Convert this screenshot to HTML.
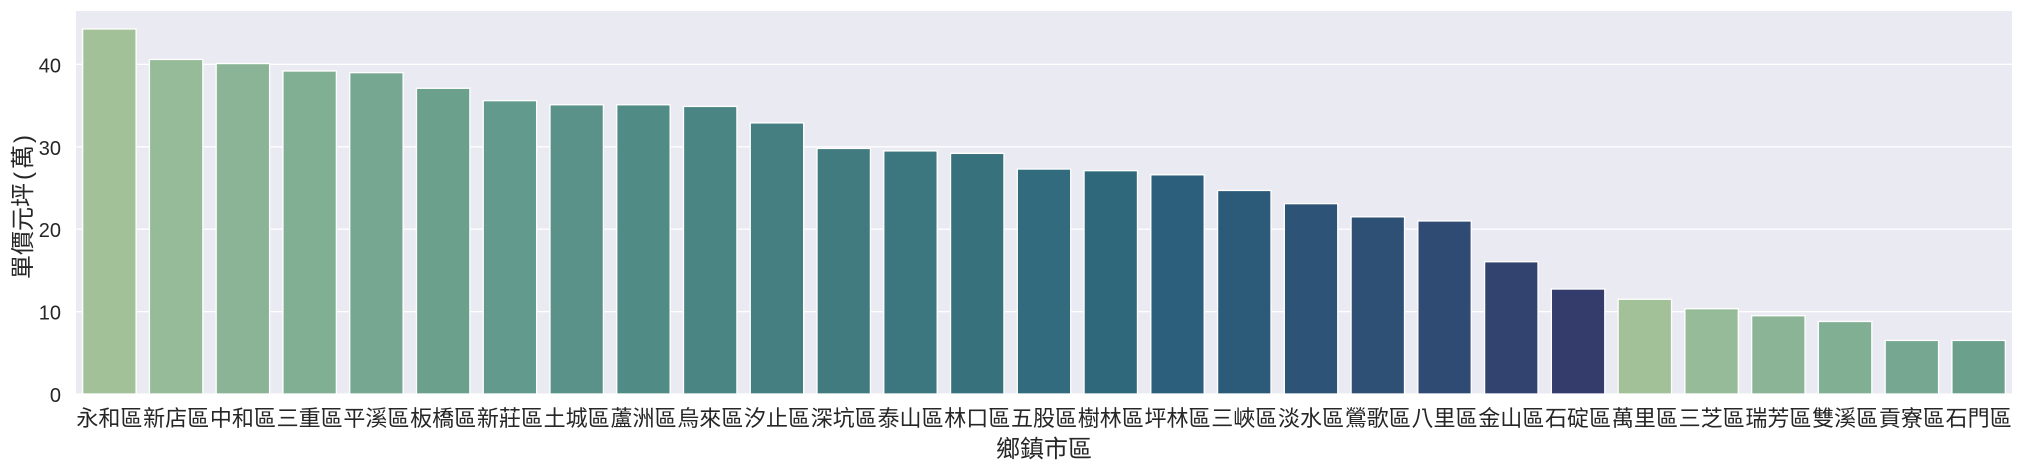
<!DOCTYPE html>
<html lang="zh-Hant">
<head>
<meta charset="utf-8">
<title>鄉鎮市區單價元坪</title>
<style>
html,body{margin:0;padding:0;background:#fff;width:2023px;height:469px;overflow:hidden}
svg{display:block}
text{font-family:"Liberation Sans","Noto Sans CJK TC",sans-serif;fill:#262626}
</style>
</head>
<body>
<svg id="chart" width="2023" height="469" viewBox="0 0 2023 469" xmlns="http://www.w3.org/2000/svg">
<rect x="0" y="0" width="2023" height="469" fill="#ffffff"/>
<rect x="76" y="11" width="1936" height="383" fill="#eaeaf2"/>
<g id="grid"></g>
<g id="bars"></g>
<g id="yticks"></g>
<g id="xticks"></g>
<text x="1044" y="457" text-anchor="middle" font-size="24">鄉鎮市區</text>
<text transform="translate(31,207) rotate(-90)" text-anchor="middle" font-size="24">單價元坪<tspan dx="3">(</tspan><tspan dx="3">萬</tspan><tspan dx="2">)</tspan></text>
</svg>
<script>
const categories = ["永和區","新店區","中和區","三重區","平溪區","板橋區","新莊區","土城區","蘆洲區","烏來區","汐止區","深坑區","泰山區","林口區","五股區","樹林區","坪林區","三峽區","淡水區","鶯歌區","八里區","金山區","石碇區","萬里區","三芝區","瑞芳區","雙溪區","貢寮區","石門區"];
const values = [44.3,40.6,40.1,39.2,39.0,37.1,35.6,35.1,35.1,34.9,32.9,29.8,29.5,29.2,27.3,27.1,26.6,24.7,23.1,21.5,21.0,16.05,12.74,11.5,10.35,9.5,8.8,6.5,6.5];
const yTicks = [0,10,20,30,40];
const palette = ["#a2c199","#95bb98","#8ab495","#80af94","#76a891","#6ba08d","#629b8e","#5a928a","#518b85","#4b8583","#467f82","#417b80","#3c767e","#37717c","#326b7d","#2e687a","#2b5f7c","#2b5b79","#2d5477","#2e5075","#304b73","#334370","#343c6c"];

const NS = "http://www.w3.org/2000/svg";
const plotLeft = 76, plotRight = 2012, plotBottom = 394, unitHeight = 8.24;
const step = (plotRight - plotLeft) / categories.length;
const barWidth = step * 0.8;
function xCenter(i){ return plotLeft + step * (i + 0.5); }
function yScale(v){ return plotBottom - v * unitHeight; }

const grid = document.getElementById("grid");
const yLabels = document.getElementById("yticks");
yTicks.forEach(function(t){
  const line = document.createElementNS(NS, "line");
  
  
  line.setAttribute("x1", plotLeft);
  line.setAttribute("x2", plotRight);
  line.setAttribute("y1", yScale(t));
  line.setAttribute("y2", yScale(t));
  line.setAttribute("stroke", "#ffffff");
  line.setAttribute("stroke-width", "1.3");
  grid.appendChild(line);
  const label = document.createElementNS(NS, "text");
  
  
  label.setAttribute("x", 61);
  label.setAttribute("y", yScale(t) + 8);
  label.setAttribute("text-anchor", "end");
  label.setAttribute("font-size", "20");
  label.textContent = String(t);
  yLabels.appendChild(label);
});

const bars = document.getElementById("bars");
const xLabels = document.getElementById("xticks");
values.forEach(function(v, i){
  const bar = document.createElementNS(NS, "rect");
  
  
  bar.setAttribute("x", xCenter(i) - barWidth / 2);
  bar.setAttribute("y", yScale(v));
  bar.setAttribute("width", barWidth);
  bar.setAttribute("height", plotBottom - yScale(v));
  bar.setAttribute("fill", palette[i % palette.length]);
  bar.setAttribute("stroke", "#ffffff");
  bar.setAttribute("stroke-width", "1.3");
  bars.appendChild(bar);
  const label = document.createElementNS(NS, "text");
  
  
  label.setAttribute("x", xCenter(i));
  label.setAttribute("y", 426);
  label.setAttribute("text-anchor", "middle");
  label.setAttribute("font-size", "22");
  label.textContent = categories[i];
  xLabels.appendChild(label);
});
</script>
</body>
</html>
